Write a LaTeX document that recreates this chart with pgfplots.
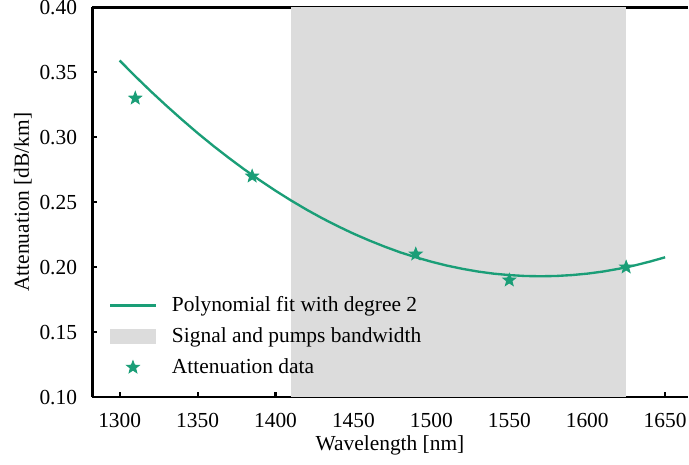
\documentclass[border=0pt]{standalone}
\usepackage{fontspec}
\setmainfont{Liberation Serif}
\usepackage{pgfplots}
\pgfplotsset{compat=1.18}
\definecolor{fitgreen}{HTML}{1A9E77}
\definecolor{bandgray}{HTML}{DCDCDC}
\pgfdeclareplotmark{fstar}{%
  \pgfpathmoveto{\pgfpointpolar{90}{\pgfplotmarksize}}%
  \pgfpathlineto{\pgfpointpolar{126}{0.42\pgfplotmarksize}}%
  \pgfpathlineto{\pgfpointpolar{162}{\pgfplotmarksize}}%
  \pgfpathlineto{\pgfpointpolar{198}{0.42\pgfplotmarksize}}%
  \pgfpathlineto{\pgfpointpolar{234}{\pgfplotmarksize}}%
  \pgfpathlineto{\pgfpointpolar{270}{0.42\pgfplotmarksize}}%
  \pgfpathlineto{\pgfpointpolar{306}{\pgfplotmarksize}}%
  \pgfpathlineto{\pgfpointpolar{342}{0.42\pgfplotmarksize}}%
  \pgfpathlineto{\pgfpointpolar{18}{\pgfplotmarksize}}%
  \pgfpathlineto{\pgfpointpolar{54}{0.42\pgfplotmarksize}}%
  \pgfpathclose
  \pgfusepathqfillstroke
}
\pgfplotsset{
  lineleg/.style={legend image code/.code={\draw[##1] (0cm,0cm) -- (0.74cm,0cm); \path[draw=none,fill=none] (0.74cm,0cm) -- (0.94cm,0cm);}},
  starleg/.style={legend image code/.code={\path[draw=none,fill=none] (0cm,0cm) -- (0.94cm,0cm); \draw[##1] plot coordinates {(0.37cm,0cm)};}},
  arealeg/.style={legend image code/.code={\fill[bandgray] (0cm,-3.35pt) rectangle (0.74cm,3.35pt); \path[draw=none,fill=none] (0.74cm,0cm) -- (0.94cm,0cm);}},
}
\begin{document}
\begin{tikzpicture}
\begin{axis}[
  scale only axis,
  width=278pt, height=182pt,
  xmin=1282.4, xmax=1664.5,
  ymin=0.10, ymax=0.40,
  axis x line*=box, axis y line*=left,
  axis line style={-, line width=1.2pt},
  xtick={1300,1350,...,1650},
  ytick={0.10,0.15,...,0.40},
  xtick pos=bottom, ytick pos=left,
  tick align=inside,
  major tick length=2.3pt,
  tick style={line width=1pt, black},
  xticklabel={\pgfmathprintnumber[assume math mode=true,1000 sep={}]{\tick}},
  yticklabel={\pgfmathprintnumber[assume math mode=true,fixed,fixed zerofill,precision=2]{\tick}},
  x tick label style={inner xsep=1pt, yshift=-4pt},
  y tick label style={inner ysep=0pt, xshift=-3.6pt},
  xlabel={Wavelength [nm]},
  ylabel={Attenuation [dB/km]},
  xlabel style={at={([yshift=-13.3pt]axis description cs:0.5,0)}, anchor=north, inner ysep=4.4pt},
  ylabel style={at={([xshift=-21.4pt]axis description cs:0,0.5)}, anchor=south, inner ysep=6.6pt},
  legend style={at={(0.017,0.03)}, anchor=south west, draw=none, fill=none,
    row sep=2pt, font=\normalsize},
  legend cell align=left,
]
\addplot[forget plot, fill=bandgray, draw=none] coordinates {(1410,0.10) (1410,0.40) (1625,0.40) (1625,0.10)} -- cycle;
\addplot[fitgreen, line width=1.1pt, lineleg] table {
x y
1300 0.3590
1310 0.3469
1320 0.3353
1330 0.3242
1340 0.3135
1350 0.3032
1360 0.2934
1370 0.2841
1380 0.2752
1390 0.2668
1400 0.2588
1410 0.2513
1420 0.2442
1430 0.2376
1440 0.2315
1450 0.2258
1460 0.2206
1470 0.2158
1480 0.2114
1490 0.2076
1500 0.2042
1510 0.2012
1520 0.1987
1530 0.1966
1540 0.1950
1550 0.1939
1560 0.1932
1570 0.1930
1580 0.1932
1590 0.1939
1600 0.1950
1610 0.1966
1620 0.1987
1630 0.2012
1640 0.2042
1650 0.2076
};
\addlegendentry{Polynomial fit with degree 2}
\addlegendimage{arealeg}
\addlegendentry{Signal and pumps bandwidth}
\addplot[only marks, mark=fstar, mark size=3.1pt, fitgreen, fill=fitgreen, starleg] coordinates {
(1310,0.33) (1385,0.27) (1490,0.21) (1550,0.19) (1625,0.20)};
\addlegendentry{Attenuation data}
\end{axis}
\end{tikzpicture}
\end{document}
